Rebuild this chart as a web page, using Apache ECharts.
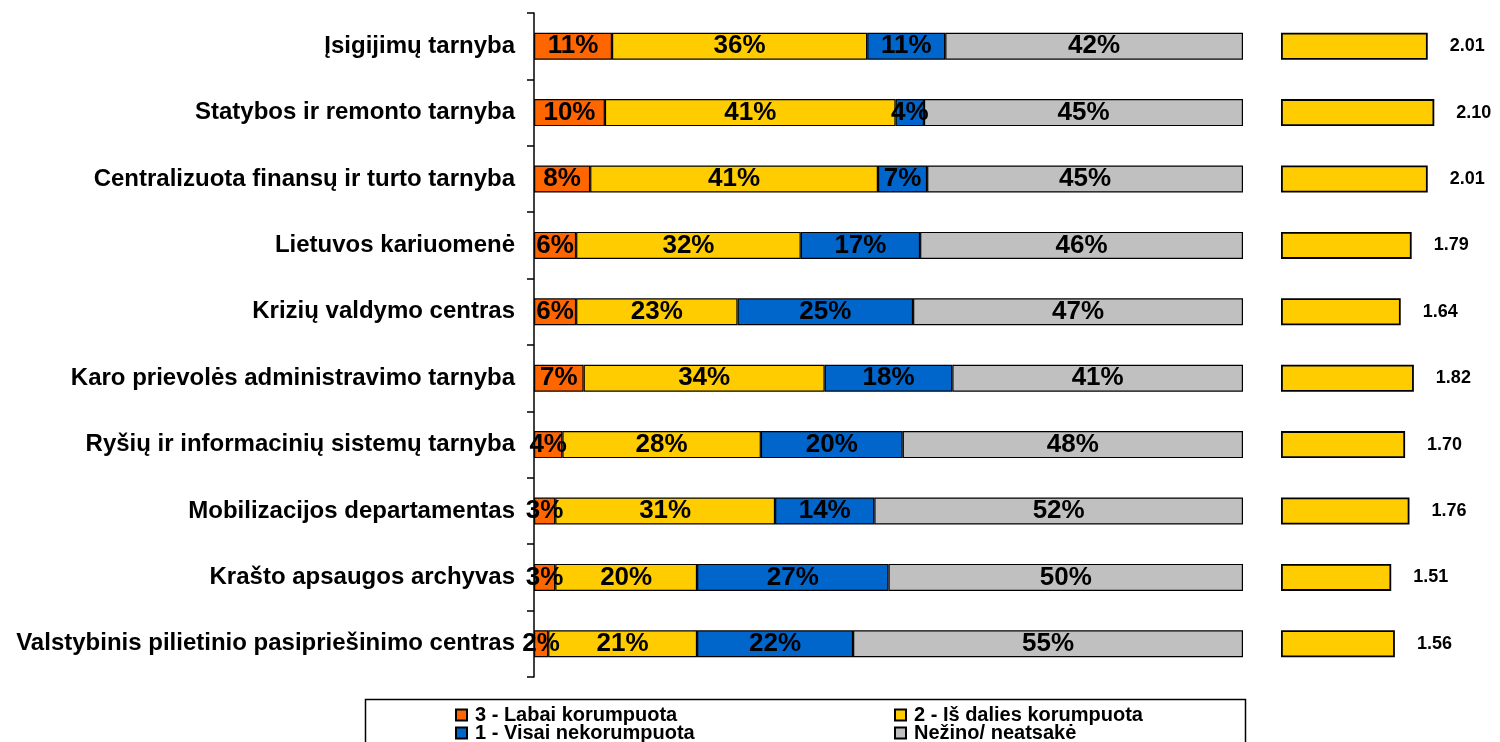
<!DOCTYPE html>
<html>
<head>
<meta charset="utf-8">
<script src="https://cdn.jsdelivr.net/npm/echarts@6/dist/echarts.min.js"></script>
<style>html,body{margin:0;padding:0;background:#fff}#c{width:1500px;height:742px}</style>
</head>
<body>
<div id="c"></div>
<script>
const categories = [
  'Įsigijimų tarnyba',
  'Statybos ir remonto tarnyba',
  'Centralizuota finansų ir turto tarnyba',
  'Lietuvos kariuomenė',
  'Krizių valdymo centras',
  'Karo prievolės administravimo tarnyba',
  'Ryšių ir informacinių sistemų tarnyba',
  'Mobilizacijos departamentas',
  'Krašto apsaugos archyvas',
  'Valstybinis pilietinio pasipriešinimo centras'
];
const seriesNames = ['3 - Labai korumpuota', '2 - Iš dalies korumpuota', '1 - Visai nekorumpuota', 'Nežino/ neatsakė'];
const labaiKorumpuota = [11, 10, 8, 6, 6, 7, 4, 3, 3, 2];
const isDaliesKorumpuota = [36, 41, 41, 32, 23, 34, 28, 31, 20, 21];
const visaiNekorumpuota = [11, 4, 7, 17, 25, 18, 20, 14, 27, 22];
const nezino = [42, 45, 45, 46, 47, 41, 48, 52, 50, 55];
const vidurkis = [2.01, 2.10, 2.01, 1.79, 1.64, 1.82, 1.70, 1.76, 1.51, 1.56];
const colors = ['#FF6600', '#FFCC00', '#0066CC', '#C0C0C0'];

const groups = [labaiKorumpuota, isDaliesKorumpuota, visaiNekorumpuota, nezino];
const totals = categories.map((_, i) => groups.reduce((s, g) => s + g[i], 0));
const FONT = '"Liberation Sans", Arial, sans-serif';
const zs = [6, 2, 5, 2];

const stacked = groups.map((g, k) => ({
  name: seriesNames[k],
  type: 'bar',
  stack: 'total',
  xAxisIndex: 0, yAxisIndex: 0,
  barWidth: 27,
  z: zs[k],
  itemStyle: { color: colors[k], borderColor: '#000', borderWidth: 1.2 },
  label: {
    show: true, position: 'inside', color: '#000',
    fontFamily: FONT, fontWeight: 'bold', fontSize: 26,
    formatter: p => p.data.raw + '%'
  },
  data: g.map((v, i) => ({ value: v / totals[i] * 100, raw: v }))
}));

function legendRow(names, top) {
  return {
    data: names,
    left: 455, top: top,
    padding: 0,
    orient: 'horizontal',
    itemWidth: 11, itemHeight: 11, itemGap: 2,
    icon: 'rect',
    selectedMode: false,
    textStyle: { color: '#000', fontFamily: FONT, fontWeight: 'bold', fontSize: 20, width: 417, lineHeight: 16, padding: [0, 0, 0, 3] }
  };
}

const option = {
  animation: false,
  backgroundColor: '#fff',
  textStyle: { fontFamily: FONT },
  grid: [
    { left: 534, top: 13, width: 709, height: 664 },
    { left: 1281, top: 13, width: 219.6, height: 664 }
  ],
  xAxis: [
    { gridIndex: 0, type: 'value', min: 0, max: 100, show: false },
    { gridIndex: 1, type: 'value', min: 0, max: 3, show: false }
  ],
  yAxis: [
    {
      gridIndex: 0, type: 'category', data: categories, inverse: true,
      axisLine: { show: true, lineStyle: { color: '#000', width: 1.5 } },
      axisTick: { show: true, length: 7, lineStyle: { color: '#000', width: 1.5 } },
      axisLabel: { color: '#000', fontFamily: FONT, fontWeight: 'bold', fontSize: 24, margin: 19 }
    },
    { gridIndex: 1, type: 'category', data: categories, inverse: true, show: false }
  ],
  legend: [
    legendRow([seriesNames[0], seriesNames[1]], 705),
    legendRow([seriesNames[2], seriesNames[3]], 723)
  ],
  graphic: [{
    type: 'rect', left: 363, top: 697,
    shape: { width: 880, height: 60 },
    style: { fill: 'none', stroke: '#000', lineWidth: 1.5 },
    z: -1
  }],
  series: stacked.concat([{
    name: 'Vidurkis',
    type: 'bar',
    xAxisIndex: 1, yAxisIndex: 1,
    barWidth: 27,
    itemStyle: { color: '#FFCC00', borderColor: '#000', borderWidth: 1.8 },
    label: {
      show: true, position: 'right', distance: 22, color: '#000',
      fontFamily: FONT, fontWeight: 'bold', fontSize: 18,
      formatter: p => p.value.toFixed(2)
    },
    data: vidurkis
  }])
};

const chart = echarts.init(document.getElementById('c'), null, { renderer: 'canvas' });
chart.setOption(option);
</script>
</body>
</html>
